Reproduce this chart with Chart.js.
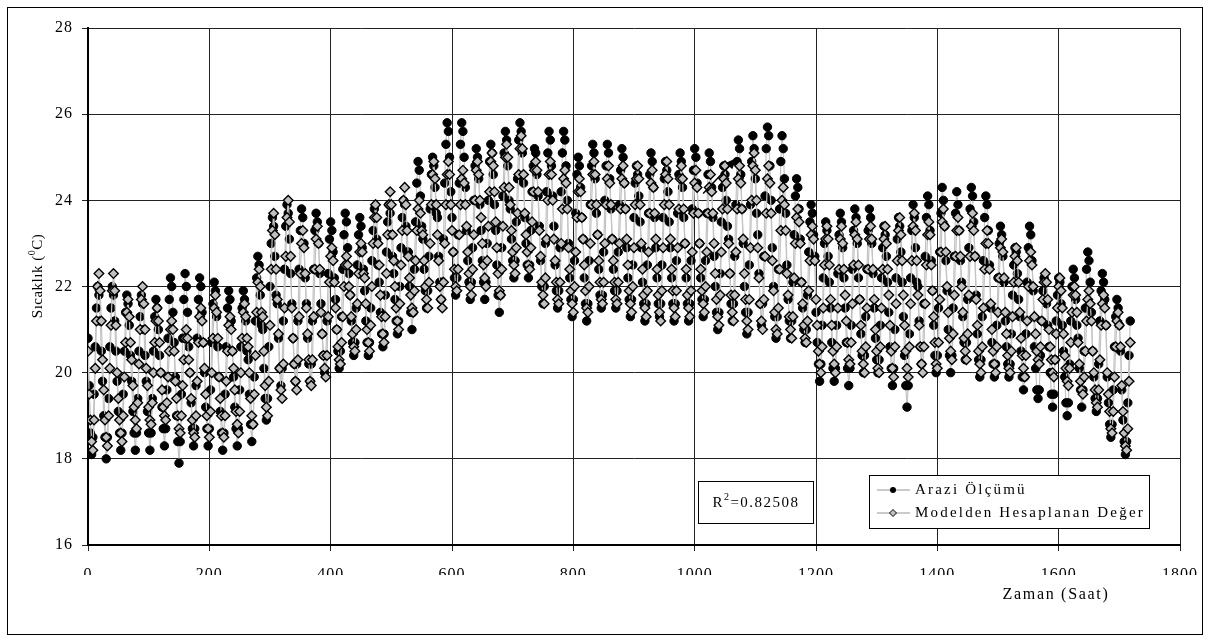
<!DOCTYPE html>
<html>
<head>
<meta charset="utf-8">
<script src="https://cdn.jsdelivr.net/npm/chart.js@4.4.1/dist/chart.umd.min.js"></script>
<style>
  html, body { margin: 0; padding: 0; background: #fff; }
  canvas { display: block; }
</style>
</head>
<body>
<canvas id="chart" width="1210" height="642"></canvas>
<script>
// Hourly temperatures, one row per day (one value every 2 hours)
const SAMPLE_STEP_HOURS = 2;

const measuredDays = [
  [20.8, 19.7, 18.6, 18.1, 18.5, 19.5, 20.6, 21.5, 22.0, 21.8, 21.2, 20.5],
  [19.8, 19.0, 18.5, 18.0, 18.5, 19.4, 20.6, 21.5, 22.0, 21.8, 21.2, 20.5],
  [19.8, 19.1, 18.6, 18.2, 18.6, 19.5, 20.5, 21.4, 21.8, 21.6, 21.1, 20.4],
  [19.8, 19.1, 18.6, 18.2, 18.6, 19.4, 20.5, 21.3, 21.8, 21.6, 21.0, 20.4],
  [19.8, 19.1, 18.6, 18.2, 18.6, 19.4, 20.5, 21.3, 21.7, 21.5, 21.0, 20.4],
  [20.0, 19.2, 18.7, 18.3, 18.7, 19.6, 20.8, 21.7, 22.2, 22.0, 21.4, 20.7],
  [19.9, 19.0, 18.4, 17.9, 18.4, 19.5, 20.8, 21.7, 22.3, 22.0, 21.4, 20.6],
  [20.0, 19.3, 18.7, 18.3, 18.7, 19.7, 20.8, 21.7, 22.2, 22.0, 21.4, 20.7],
  [20.0, 19.2, 18.7, 18.3, 18.7, 19.6, 20.7, 21.6, 22.1, 21.9, 21.3, 20.6],
  [19.9, 19.1, 18.6, 18.2, 18.6, 19.5, 20.6, 21.5, 21.9, 21.7, 21.2, 20.5],
  [19.9, 19.2, 18.7, 18.3, 18.7, 19.6, 20.6, 21.5, 21.9, 21.7, 21.2, 20.5],
  [20.3, 19.5, 18.8, 18.4, 18.8, 19.9, 21.2, 22.2, 22.7, 22.5, 21.8, 21.1],
  [21.0, 20.1, 19.4, 18.9, 19.4, 20.6, 22.0, 23.0, 23.6, 23.4, 22.7, 21.8],
  [21.6, 20.8, 20.1, 19.7, 20.1, 21.2, 22.4, 23.4, 23.9, 23.7, 23.1, 22.3],
  [21.6, 20.8, 20.2, 19.8, 20.2, 21.2, 22.4, 23.3, 23.8, 23.6, 23.0, 22.2],
  [21.6, 20.8, 20.2, 19.8, 20.2, 21.2, 22.4, 23.3, 23.7, 23.5, 23.0, 22.3],
  [21.6, 20.9, 20.4, 20.0, 20.4, 21.2, 22.3, 23.1, 23.5, 23.3, 22.8, 22.2],
  [21.7, 21.0, 20.5, 20.1, 20.5, 21.3, 22.4, 23.2, 23.7, 23.5, 22.9, 22.3],
  [21.8, 21.2, 20.7, 20.4, 20.7, 21.5, 22.5, 23.2, 23.6, 23.4, 22.9, 22.4],
  [21.9, 21.2, 20.7, 20.4, 20.7, 21.5, 22.6, 23.3, 23.8, 23.6, 23.1, 22.5],
  [22.1, 21.4, 20.9, 20.6, 20.9, 21.8, 22.8, 23.5, 23.9, 23.7, 23.2, 22.7],
  [22.3, 21.7, 21.2, 20.9, 21.2, 22.0, 22.9, 23.6, 24.0, 23.9, 23.4, 22.8],
  [22.8, 22.0, 21.4, 21.0, 21.4, 22.4, 23.5, 24.4, 24.9, 24.7, 24.1, 23.4],
  [23.1, 22.4, 21.9, 21.5, 21.9, 22.7, 23.8, 24.6, 25.0, 24.8, 24.3, 23.7],
  [23.6, 22.7, 22.1, 21.7, 22.1, 23.1, 24.4, 25.3, 25.8, 25.6, 25.0, 24.2],
  [23.6, 22.8, 22.2, 21.8, 22.2, 23.2, 24.4, 25.3, 25.8, 25.6, 25.0, 24.3],
  [23.3, 22.6, 22.1, 21.7, 22.1, 22.9, 24.0, 24.8, 25.2, 25.0, 24.5, 23.9],
  [23.3, 22.6, 22.1, 21.7, 22.1, 23.0, 24.0, 24.9, 25.3, 25.1, 24.6, 23.9],
  [23.3, 22.5, 21.8, 21.4, 21.8, 22.9, 24.1, 25.1, 25.6, 25.4, 24.8, 24.0],
  [23.8, 23.1, 22.6, 22.2, 22.6, 23.5, 24.5, 25.4, 25.8, 25.6, 25.1, 24.4],
  [23.6, 23.0, 22.5, 22.2, 22.5, 23.3, 24.2, 24.8, 25.2, 25.1, 24.6, 24.1],
  [23.4, 22.6, 22.0, 21.6, 22.0, 23.0, 24.2, 25.1, 25.6, 25.4, 24.8, 24.1],
  [23.4, 22.5, 21.9, 21.5, 21.9, 22.9, 24.2, 25.1, 25.6, 25.4, 24.8, 24.0],
  [23.0, 22.2, 21.7, 21.3, 21.7, 22.6, 23.7, 24.6, 25.0, 24.8, 24.3, 23.6],
  [23.1, 22.2, 21.6, 21.2, 21.6, 22.6, 23.9, 24.8, 25.3, 25.1, 24.5, 23.7],
  [23.2, 22.4, 21.8, 21.5, 21.8, 22.8, 24.0, 24.8, 25.3, 25.1, 24.5, 23.8],
  [23.1, 22.4, 21.9, 21.5, 21.9, 22.8, 23.9, 24.7, 25.2, 25.0, 24.4, 23.8],
  [22.9, 22.2, 21.7, 21.3, 21.7, 22.5, 23.6, 24.4, 24.8, 24.6, 24.1, 23.5],
  [22.9, 22.1, 21.6, 21.2, 21.6, 22.5, 23.7, 24.6, 25.1, 24.9, 24.3, 23.6],
  [22.9, 22.2, 21.6, 21.3, 21.6, 22.5, 23.6, 24.5, 24.9, 24.7, 24.2, 23.5],
  [22.9, 22.2, 21.6, 21.2, 21.6, 22.6, 23.7, 24.6, 25.1, 24.9, 24.3, 23.6],
  [23.0, 22.2, 21.6, 21.2, 21.6, 22.6, 23.8, 24.7, 25.2, 25.0, 24.4, 23.7],
  [23.0, 22.2, 21.7, 21.3, 21.7, 22.6, 23.7, 24.6, 25.1, 24.9, 24.3, 23.6],
  [22.7, 22.0, 21.4, 21.0, 21.4, 22.3, 23.5, 24.3, 24.8, 24.6, 24.0, 23.4],
  [23.1, 22.3, 21.6, 21.2, 21.6, 22.7, 23.9, 24.9, 25.4, 25.2, 24.6, 23.8],
  [23.0, 22.0, 21.4, 20.9, 21.4, 22.5, 23.9, 24.9, 25.5, 25.2, 24.5, 23.7],
  [23.2, 22.3, 21.6, 21.1, 21.6, 22.7, 24.1, 25.2, 25.7, 25.5, 24.8, 24.0],
  [22.9, 22.0, 21.3, 20.8, 21.3, 22.4, 23.8, 24.9, 25.5, 25.2, 24.5, 23.7],
  [22.5, 21.7, 21.2, 20.8, 21.2, 22.1, 23.2, 24.1, 24.5, 24.3, 23.8, 23.1],
  [22.1, 21.5, 21.0, 20.7, 21.0, 21.8, 22.8, 23.5, 23.9, 23.7, 23.2, 22.7],
  [21.4, 20.7, 20.2, 19.8, 20.2, 21.1, 22.2, 23.0, 23.5, 23.3, 22.7, 22.1],
  [21.5, 20.7, 20.1, 19.8, 20.1, 21.1, 22.3, 23.2, 23.7, 23.5, 22.9, 22.2],
  [21.5, 20.7, 20.1, 19.7, 20.1, 21.1, 22.4, 23.3, 23.8, 23.6, 23.0, 22.2],
  [21.7, 20.9, 20.4, 20.0, 20.4, 21.3, 22.4, 23.3, 23.8, 23.6, 23.0, 22.3],
  [21.5, 20.8, 20.3, 20.0, 20.3, 21.1, 22.2, 22.9, 23.4, 23.2, 22.7, 22.1],
  [21.4, 20.6, 20.1, 19.7, 20.1, 21.0, 22.2, 23.1, 23.6, 23.4, 22.8, 22.1],
  [21.3, 20.4, 19.7, 19.2, 19.7, 20.9, 22.2, 23.3, 23.9, 23.6, 22.9, 22.1],
  [22.0, 21.2, 20.6, 20.2, 20.6, 21.6, 22.7, 23.6, 24.1, 23.9, 23.3, 22.6],
  [21.9, 21.1, 20.4, 20.0, 20.4, 21.5, 22.8, 23.7, 24.3, 24.0, 23.4, 22.6],
  [21.9, 21.0, 20.4, 20.0, 20.4, 21.5, 22.7, 23.7, 24.2, 23.9, 23.3, 22.6],
  [22.1, 21.3, 20.7, 20.3, 20.7, 21.7, 22.9, 23.8, 24.3, 24.1, 23.5, 22.7],
  [21.8, 20.9, 20.3, 19.9, 20.3, 21.3, 22.6, 23.6, 24.1, 23.9, 23.3, 22.5],
  [21.5, 20.7, 20.2, 19.9, 20.2, 21.1, 22.2, 23.0, 23.4, 23.2, 22.7, 22.1],
  [21.2, 20.6, 20.2, 19.9, 20.2, 20.9, 21.8, 22.5, 22.9, 22.8, 22.3, 21.7],
  [21.3, 20.5, 19.9, 19.6, 19.9, 20.9, 22.1, 22.9, 23.4, 23.2, 22.6, 21.9],
  [20.6, 20.1, 19.6, 19.4, 19.6, 20.4, 21.2, 21.9, 22.2, 22.1, 21.6, 21.1],
  [20.6, 20.0, 19.5, 19.2, 19.5, 20.3, 21.2, 21.8, 22.2, 22.1, 21.6, 21.1],
  [20.5, 19.9, 19.3, 19.0, 19.3, 20.2, 21.2, 22.0, 22.4, 22.2, 21.7, 21.1],
  [20.8, 20.1, 19.6, 19.2, 19.6, 20.5, 21.5, 22.4, 22.8, 22.6, 22.1, 21.4],
  [20.5, 19.9, 19.4, 19.1, 19.4, 20.2, 21.2, 21.9, 22.3, 22.1, 21.7, 21.1],
  [19.9, 19.3, 18.8, 18.5, 18.8, 19.6, 20.6, 21.3, 21.7, 21.5, 21.1, 20.5],
  [19.6, 18.9, 18.4, 18.1, 18.4, 19.3, 20.4, 21.2]
];

const modelDays = [
  [20.5, 19.5, 18.9, 18.4, 18.2, 18.9, 20.1, 21.2, 22.0, 22.3, 21.9, 21.2],
  [20.3, 19.6, 18.9, 18.5, 18.3, 19.0, 20.1, 21.1, 21.9, 22.3, 21.9, 21.1],
  [20.0, 19.4, 18.9, 18.6, 18.4, 19.0, 19.9, 20.7, 21.4, 21.7, 21.3, 20.7],
  [20.3, 19.7, 19.2, 18.9, 18.7, 19.3, 20.2, 21.0, 21.7, 22.0, 21.6, 21.0],
  [20.1, 19.7, 19.2, 18.9, 18.8, 19.3, 20.0, 20.7, 21.2, 21.5, 21.2, 20.7],
  [20.0, 19.6, 19.2, 19.0, 18.9, 19.3, 19.9, 20.5, 21.0, 21.2, 21.0, 20.5],
  [19.8, 19.4, 19.0, 18.7, 18.6, 19.0, 19.7, 20.3, 20.8, 21.0, 20.8, 20.3],
  [20.0, 19.4, 18.9, 18.6, 18.5, 19.0, 19.8, 20.7, 21.3, 21.5, 21.2, 20.7],
  [20.1, 19.5, 19.0, 18.7, 18.5, 19.1, 20.0, 20.8, 21.5, 21.8, 21.4, 20.8],
  [19.9, 19.4, 19.0, 18.6, 18.5, 19.0, 19.8, 20.5, 21.1, 21.3, 21.0, 20.5],
  [20.1, 19.6, 19.1, 18.8, 18.6, 19.1, 20.0, 20.8, 21.4, 21.6, 21.3, 20.8],
  [20.6, 20.0, 19.4, 19.0, 18.8, 19.5, 20.4, 21.4, 22.1, 22.4, 22.0, 21.4],
  [21.3, 20.5, 19.7, 19.2, 19.0, 19.8, 21.1, 22.4, 23.3, 23.7, 23.2, 22.4],
  [21.7, 20.9, 20.1, 19.6, 19.4, 20.2, 21.5, 22.7, 23.6, 24.0, 23.5, 22.7],
  [21.5, 20.8, 20.2, 19.8, 19.6, 20.3, 21.3, 22.3, 23.0, 23.3, 22.9, 22.3],
  [21.5, 20.9, 20.3, 19.8, 19.7, 20.3, 21.3, 22.4, 23.1, 23.4, 23.0, 22.4],
  [21.4, 20.9, 20.4, 20.1, 19.9, 20.4, 21.3, 22.1, 22.7, 22.9, 22.6, 22.1],
  [21.5, 21.0, 20.6, 20.3, 20.2, 20.7, 21.3, 22.0, 22.5, 22.7, 22.5, 22.0],
  [21.8, 21.3, 20.9, 20.6, 20.5, 21.0, 21.6, 22.3, 22.8, 23.0, 22.8, 22.3],
  [22.2, 21.6, 21.0, 20.7, 20.5, 21.1, 22.0, 23.0, 23.6, 23.9, 23.6, 23.0],
  [22.5, 21.8, 21.3, 20.9, 20.7, 21.3, 22.3, 23.2, 23.9, 24.2, 23.9, 23.2],
  [22.6, 22.0, 21.5, 21.2, 21.0, 21.6, 22.5, 23.3, 24.0, 24.3, 23.9, 23.3],
  [22.7, 22.2, 21.8, 21.5, 21.4, 21.9, 22.6, 23.3, 23.8, 24.0, 23.7, 23.3],
  [23.2, 22.6, 22.0, 21.7, 21.5, 22.1, 23.0, 23.9, 24.6, 24.9, 24.5, 23.9],
  [23.2, 22.6, 22.0, 21.7, 21.5, 22.1, 23.0, 23.9, 24.6, 24.9, 24.6, 23.9],
  [23.3, 22.8, 22.4, 22.0, 21.9, 22.4, 23.2, 23.9, 24.5, 24.7, 24.4, 23.9],
  [23.4, 22.8, 22.3, 22.0, 21.8, 22.4, 23.2, 24.0, 24.7, 24.9, 24.6, 24.0],
  [23.6, 23.0, 22.5, 22.2, 22.0, 22.6, 23.4, 24.2, 24.9, 25.1, 24.8, 24.2],
  [23.5, 22.9, 22.3, 21.9, 21.8, 22.4, 23.4, 24.3, 25.0, 25.3, 25.0, 24.3],
  [23.9, 23.3, 22.8, 22.5, 22.3, 22.9, 23.7, 24.6, 25.2, 25.5, 25.2, 24.6],
  [23.7, 23.2, 22.8, 22.5, 22.4, 22.9, 23.5, 24.2, 24.7, 24.9, 24.7, 24.2],
  [23.3, 22.7, 22.1, 21.8, 21.6, 22.2, 23.1, 24.0, 24.6, 24.9, 24.6, 24.0],
  [23.1, 22.6, 22.1, 21.7, 21.6, 22.1, 23.0, 23.8, 24.5, 24.7, 24.4, 23.8],
  [22.9, 22.4, 21.9, 21.6, 21.4, 22.0, 22.8, 23.6, 24.2, 24.5, 24.2, 23.6],
  [23.1, 22.5, 21.9, 21.5, 21.4, 22.0, 23.0, 23.9, 24.6, 24.9, 24.6, 23.9],
  [23.2, 22.6, 22.1, 21.7, 21.6, 22.1, 23.0, 23.9, 24.5, 24.8, 24.4, 23.9],
  [23.1, 22.6, 22.1, 21.7, 21.6, 22.1, 23.0, 23.8, 24.5, 24.8, 24.4, 23.8],
  [23.1, 22.5, 21.9, 21.6, 21.4, 22.0, 22.9, 23.9, 24.5, 24.8, 24.5, 23.9],
  [23.0, 22.4, 21.8, 21.5, 21.3, 21.9, 22.8, 23.7, 24.4, 24.7, 24.3, 23.7],
  [23.1, 22.4, 21.8, 21.4, 21.2, 21.9, 22.9, 23.9, 24.6, 24.9, 24.5, 23.9],
  [23.1, 22.4, 21.9, 21.5, 21.3, 21.9, 22.9, 23.8, 24.5, 24.8, 24.5, 23.8],
  [23.0, 22.4, 21.8, 21.5, 21.3, 21.9, 22.8, 23.7, 24.4, 24.7, 24.3, 23.7],
  [23.0, 22.4, 21.9, 21.6, 21.4, 22.0, 22.8, 23.7, 24.3, 24.6, 24.2, 23.7],
  [23.0, 22.3, 21.7, 21.3, 21.1, 21.8, 22.8, 23.8, 24.5, 24.8, 24.4, 23.8],
  [23.0, 22.3, 21.8, 21.4, 21.2, 21.8, 22.8, 23.8, 24.5, 24.8, 24.4, 23.8],
  [23.1, 22.3, 21.7, 21.2, 21.0, 21.7, 22.9, 24.0, 24.8, 25.1, 24.7, 24.0],
  [22.9, 22.2, 21.6, 21.2, 21.0, 21.7, 22.7, 23.7, 24.5, 24.8, 24.4, 23.7],
  [22.6, 21.9, 21.4, 21.0, 20.9, 21.5, 22.4, 23.3, 24.0, 24.3, 23.9, 23.3],
  [22.3, 21.8, 21.3, 21.0, 20.8, 21.3, 22.2, 23.0, 23.6, 23.8, 23.5, 23.0],
  [22.1, 21.6, 21.1, 20.8, 20.7, 21.2, 21.9, 22.6, 23.2, 23.4, 23.1, 22.6],
  [21.7, 21.1, 20.5, 20.2, 20.0, 20.6, 21.5, 22.5, 23.1, 23.4, 23.1, 22.5],
  [21.7, 21.1, 20.5, 20.2, 20.0, 20.6, 21.5, 22.4, 23.1, 23.4, 23.0, 22.4],
  [21.8, 21.2, 20.7, 20.3, 20.2, 20.7, 21.6, 22.5, 23.2, 23.5, 23.1, 22.5],
  [21.7, 21.1, 20.5, 20.2, 20.0, 20.6, 21.5, 22.4, 23.1, 23.4, 23.1, 22.4],
  [21.7, 21.0, 20.5, 20.1, 20.0, 20.6, 21.5, 22.4, 23.1, 23.4, 23.0, 22.4],
  [21.8, 21.1, 20.5, 20.1, 19.9, 20.6, 21.6, 22.6, 23.3, 23.6, 23.2, 22.6],
  [21.8, 21.1, 20.5, 20.1, 19.9, 20.6, 21.6, 22.6, 23.4, 23.7, 23.3, 22.6],
  [21.8, 21.1, 20.6, 20.2, 20.0, 20.6, 21.6, 22.5, 23.2, 23.5, 23.2, 22.5],
  [21.9, 21.3, 20.7, 20.2, 20.1, 20.7, 21.7, 22.8, 23.5, 23.8, 23.4, 22.8],
  [22.0, 21.4, 20.8, 20.5, 20.3, 20.9, 21.8, 22.7, 23.3, 23.6, 23.3, 22.7],
  [22.0, 21.4, 20.8, 20.5, 20.3, 20.9, 21.8, 22.7, 23.4, 23.7, 23.3, 22.7],
  [21.7, 21.1, 20.5, 20.2, 20.0, 20.6, 21.5, 22.4, 23.0, 23.3, 23.0, 22.4],
  [21.6, 21.0, 20.5, 20.2, 20.0, 20.6, 21.4, 22.2, 22.9, 23.1, 22.8, 22.2],
  [21.4, 20.9, 20.4, 20.1, 20.0, 20.5, 21.3, 22.1, 22.7, 22.9, 22.6, 22.1],
  [21.4, 20.8, 20.4, 20.1, 19.9, 20.4, 21.2, 22.0, 22.6, 22.8, 22.5, 22.0],
  [21.3, 20.9, 20.5, 20.3, 20.2, 20.6, 21.2, 21.7, 22.1, 22.3, 22.1, 21.7],
  [21.0, 20.6, 20.3, 20.0, 19.9, 20.3, 20.9, 21.5, 22.0, 22.2, 21.9, 21.5],
  [20.9, 20.4, 20.1, 19.8, 19.7, 20.1, 20.7, 21.4, 21.8, 22.0, 21.8, 21.4],
  [20.7, 20.2, 19.8, 19.6, 19.5, 19.9, 20.5, 21.2, 21.7, 21.9, 21.6, 21.2],
  [20.5, 20.0, 19.6, 19.3, 19.2, 19.6, 20.3, 21.1, 21.6, 21.8, 21.5, 21.1],
  [20.0, 19.5, 19.1, 18.7, 18.6, 19.1, 19.9, 20.6, 21.2, 21.4, 21.1, 20.6],
  [19.7, 19.1, 18.6, 18.3, 18.2, 18.7, 19.8, 20.7]
];

const seriesNames = ['Arazi Ölçümü', 'Modelden Hesaplanan Değer'];
const xTicks = [0, 200, 400, 600, 800, 1000, 1200, 1400, 1600, 1800];
const yTicks = [16, 18, 20, 22, 24, 26, 28];
const xTitle = 'Zaman (Saat)';
const rSquared = '0.82508';

function toPoints(days) {
  const pts = [];
  days.forEach((row, d) => {
    row.forEach((v, i) => pts.push({ x: d * 24 + i * SAMPLE_STEP_HOURS, y: v }));
  });
  return pts;
}

const FONT = "'Liberation Serif', 'Times New Roman', serif";
Chart.defaults.font.family = FONT;
Chart.defaults.color = '#000';

// draws text pieces side by side (used for superscripts)
function drawRich(ctx, parts, cx, cy) {
  let total = 0;
  parts.forEach(p => {
    ctx.font = p[1] + 'px ' + FONT;
    p.w = ctx.measureText(p[0]).width;
    total += p.w;
  });
  let x = cx - total / 2;
  ctx.textAlign = 'left';
  parts.forEach(p => {
    ctx.font = p[1] + 'px ' + FONT;
    ctx.fillText(p[0], x, cy + p[2]);
    x += p.w;
  });
}

const decor = {
  id: 'decor',
  beforeDraw(chart) {
    const ctx = chart.ctx;
    ctx.save();
    ctx.fillStyle = '#fff';
    ctx.fillRect(0, 0, chart.width, chart.height);
    ctx.restore();
    ctx.letterSpacing = '1px';
  },
  afterDraw(chart) {
    const { ctx } = chart;
    const xs = chart.scales.x, ys = chart.scales.y;
    ctx.save();
    ctx.strokeStyle = '#000';
    ctx.fillStyle = '#000';
    ctx.lineWidth = 1;
    ctx.strokeRect(7.5, 7.5, 1195, 627);
    ctx.textBaseline = 'middle';

    // axis titles
    ctx.letterSpacing = '1.7px';
    ctx.font = '16px ' + FONT;
    ctx.textAlign = 'center';
    ctx.fillText(xTitle, 1056, 595);

    ctx.save();
    ctx.translate(38, 276);
    ctx.rotate(-Math.PI / 2);
    ctx.letterSpacing = '0.5px';
    drawRich(ctx, [['Sıcaklık (', 15, 0], ['0', 10, -6], ['C)', 15, 0]], 0, 0);
    ctx.restore();

    // R² box
    ctx.fillStyle = '#fff';
    ctx.fillRect(698.5, 481.5, 115, 42);
    ctx.strokeRect(698.5, 481.5, 115, 42);
    ctx.fillStyle = '#000';
    ctx.letterSpacing = '1.5px';
    drawRich(ctx, [['R', 15, 0], ['2', 10, -6], ['=' + rSquared, 15, 0]], 756, 503);

    // legend
    ctx.fillStyle = '#fff';
    ctx.fillRect(869.5, 475.5, 280, 53);
    ctx.strokeRect(869.5, 475.5, 280, 53);
    const rows = [490, 513];
    rows.forEach((ry, i) => {
      ctx.strokeStyle = '#b8b8b8';
      ctx.lineWidth = 1.5;
      ctx.beginPath();
      ctx.moveTo(877, ry);
      ctx.lineTo(910, ry);
      ctx.stroke();
      ctx.strokeStyle = '#000';
      ctx.lineWidth = 1;
      if (i === 0) {
        ctx.fillStyle = '#000';
        ctx.beginPath();
        ctx.arc(893, ry, 3, 0, Math.PI * 2);
        ctx.fill();
      } else {
        ctx.fillStyle = '#c0c0c0';
        ctx.beginPath();
        ctx.moveTo(893, ry - 3.5);
        ctx.lineTo(896.5, ry);
        ctx.lineTo(893, ry + 3.5);
        ctx.lineTo(889.5, ry);
        ctx.closePath();
        ctx.fill();
        ctx.stroke();
      }
      ctx.fillStyle = '#000';
      ctx.font = '15px ' + FONT;
      ctx.letterSpacing = '2.2px';
      ctx.textAlign = 'left';
      ctx.fillText(seriesNames[i], 915, ry);
    });

    // arrow pointing at a measured peak
    const ax1 = xs.getPixelForValue(1014), ay1 = ys.getPixelForValue(24.16);
    const ax2 = xs.getPixelForValue(1069), ay2 = ys.getPixelForValue(24.98);
    const ang = Math.atan2(ay2 - ay1, ax2 - ax1);
    ctx.strokeStyle = '#000';
    ctx.fillStyle = '#000';
    ctx.lineWidth = 1.5;
    ctx.beginPath();
    ctx.moveTo(ax1, ay1);
    ctx.lineTo(ax2 - 8 * Math.cos(ang), ay2 - 8 * Math.sin(ang));
    ctx.stroke();
    ctx.beginPath();
    ctx.moveTo(ax2, ay2);
    ctx.lineTo(ax2 - 11 * Math.cos(ang) + 4.5 * Math.sin(ang), ay2 - 11 * Math.sin(ang) - 4.5 * Math.cos(ang));
    ctx.lineTo(ax2 - 11 * Math.cos(ang) - 4.5 * Math.sin(ang), ay2 - 11 * Math.sin(ang) + 4.5 * Math.cos(ang));
    ctx.closePath();
    ctx.fill();
    ctx.restore();
  }
};

const tickFont = { family: FONT, size: 16 };

new Chart(document.getElementById('chart').getContext('2d'), {
  type: 'line',
  data: {
    datasets: [
      {
        label: seriesNames[0],
        data: toPoints(measuredDays),
        order: 2,
        borderColor: '#c4c4c4',
        borderWidth: 1.2,
        pointStyle: 'circle',
        pointRadius: 4.2,
        pointBackgroundColor: '#000',
        pointBorderColor: '#000',
        pointBorderWidth: 1,
        tension: 0
      },
      {
        label: seriesNames[1],
        data: toPoints(modelDays),
        order: 1,
        borderColor: '#c4c4c4',
        borderWidth: 1.2,
        pointStyle: 'rectRot',
        pointRadius: 4.8,
        pointBackgroundColor: '#c0c0c0',
        pointBorderColor: '#000',
        pointBorderWidth: 1.4,
        tension: 0
      }
    ]
  },
  options: {
    responsive: false,
    animation: false,
    events: [],
    layout: { padding: { left: 0, top: 28, right: 27, bottom: 67 } },
    plugins: { legend: { display: false }, tooltip: { enabled: false } },
    scales: {
      x: {
        type: 'linear',
        min: xTicks[0],
        max: xTicks[xTicks.length - 1],
        afterBuildTicks: s => { s.ticks = xTicks.map(v => ({ value: v })); },
        afterFit: s => { s.height = 30; },
        ticks: { font: tickFont, color: '#000', padding: 14, maxRotation: 0, autoSkip: false, callback: v => String(v) },
        grid: { color: '#222', lineWidth: 1, tickLength: 6 },
        border: { color: '#000', width: 2 }
      },
      y: {
        min: yTicks[0],
        max: yTicks[yTicks.length - 1],
        afterBuildTicks: s => { s.ticks = yTicks.map(v => ({ value: v })); },
        afterFit: s => { s.width = 88; },
        ticks: { font: tickFont, color: '#000', padding: 9, autoSkip: false, callback: v => String(v) },
        grid: { color: '#222', lineWidth: 1, tickLength: 6 },
        border: { color: '#000', width: 2 }
      }
    }
  },
  plugins: [decor]
});
</script>
</body>
</html>
